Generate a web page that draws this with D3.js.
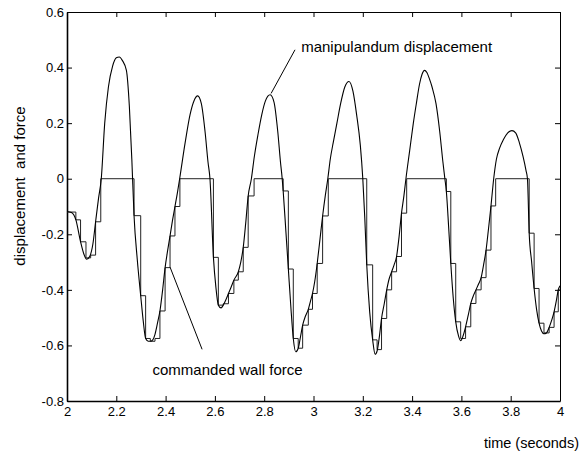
<!DOCTYPE html>
<html>
<head>
<meta charset="utf-8">
<script src="https://cdn.jsdelivr.net/npm/d3@7"></script>
<style>
  html, body { margin: 0; padding: 0; background: #fff; }
  svg { display: block; }
  text { font-family: "Liberation Sans", Arial, Helvetica, sans-serif; fill: #000; }
</style>
</head>
<body>
<svg id="chart" width="581" height="452"></svg>
<script>
// ---------- data ----------
const xTickValues = [2, 2.2, 2.4, 2.6, 2.8, 3, 3.2, 3.4, 3.6, 3.8, 4];
const xTickLabels = ["2", "2.2", "2.4", "2.6", "2.8", "3", "3.2", "3.4", "3.6", "3.8", "4"];
const yTickValues = [-0.8, -0.6, -0.4, -0.2, 0, 0.2, 0.4, 0.6];
const yTickLabels = ["-0.8", "-0.6", "-0.4", "-0.2", "0", "0.2", "0.4", "0.6"];

// manipulandum displacement (smooth curve)
const dispTime = [
  2.000, 2.018, 2.036, 2.055, 2.068, 2.080, 2.092, 2.105, 2.116, 2.128, 2.139, 2.153, 2.168, 2.185, 2.200, 2.212,
  2.225, 2.241, 2.253, 2.263, 2.272, 2.285, 2.299, 2.309, 2.319, 2.330, 2.338, 2.348, 2.357, 2.367, 2.377, 2.388,
  2.398, 2.408, 2.418, 2.428, 2.438, 2.448, 2.457, 2.479, 2.499, 2.515, 2.530, 2.545, 2.560, 2.572, 2.580, 2.594,
  2.604, 2.614, 2.625, 2.634, 2.645, 2.655, 2.666, 2.677, 2.695, 2.705, 2.715, 2.725, 2.735, 2.748, 2.760, 2.775,
  2.790, 2.805, 2.824, 2.840, 2.855, 2.866, 2.873, 2.877, 2.888, 2.898, 2.908, 2.918, 2.928, 2.938, 2.947, 2.956,
  2.967, 2.979, 2.988, 2.996, 3.005, 3.015, 3.026, 3.037, 3.048, 3.058, 3.068, 3.080, 3.095, 3.110, 3.127, 3.144,
  3.160, 3.175, 3.190, 3.200, 3.208, 3.216, 3.228, 3.240, 3.250, 3.258, 3.267, 3.276, 3.287, 3.297, 3.307, 3.317,
  3.327, 3.337, 3.347, 3.357, 3.367, 3.375, 3.390, 3.405, 3.418, 3.430, 3.440, 3.450, 3.460, 3.470, 3.481, 3.497,
  3.512, 3.525, 3.533, 3.539, 3.548, 3.557, 3.567, 3.577, 3.588, 3.597, 3.607, 3.617, 3.628, 3.638, 3.649, 3.659,
  3.670, 3.680, 3.690, 3.700, 3.710, 3.720, 3.731, 3.742, 3.755, 3.770, 3.788, 3.805, 3.820, 3.835, 3.850, 3.862,
  3.868, 3.875, 3.885, 3.895, 3.905, 3.915, 3.925, 3.935, 3.945, 3.956, 3.966, 3.976, 3.985, 3.993, 4.000
];
const dispValue = [
  -0.118, -0.122, -0.148, -0.227, -0.270, -0.290, -0.280, -0.235, -0.155, -0.070, 0.000, 0.200, 0.330, 0.405, 0.435, 0.438,
  0.425, 0.390, 0.260, 0.070, -0.133, -0.290, -0.421, -0.510, -0.575, -0.585, -0.585, -0.580, -0.560, -0.520, -0.476, -0.400,
  -0.320, -0.260, -0.206, -0.150, -0.100, -0.050, 0.000, 0.128, 0.230, 0.280, 0.298, 0.270, 0.170, 0.060, 0.000, -0.283,
  -0.390, -0.455, -0.465, -0.455, -0.435, -0.413, -0.390, -0.365, -0.335, -0.300, -0.247, -0.160, -0.062, 0.000, 0.080, 0.160,
  0.230, 0.280, 0.302, 0.275, 0.170, 0.060, 0.000, -0.044, -0.190, -0.325, -0.460, -0.575, -0.623, -0.610, -0.570, -0.527,
  -0.495, -0.470, -0.440, -0.413, -0.370, -0.305, -0.220, -0.134, -0.060, 0.000, 0.070, 0.130, 0.200, 0.270, 0.330, 0.350,
  0.315, 0.230, 0.120, 0.000, -0.140, -0.310, -0.480, -0.580, -0.632, -0.620, -0.570, -0.503, -0.450, -0.400, -0.360, -0.335,
  -0.310, -0.280, -0.210, -0.124, -0.060, 0.000, 0.100, 0.200, 0.275, 0.340, 0.375, 0.390, 0.382, 0.360, 0.330, 0.270,
  0.170, 0.060, 0.000, -0.046, -0.170, -0.305, -0.430, -0.515, -0.565, -0.583, -0.565, -0.533, -0.490, -0.449, -0.420, -0.400,
  -0.378, -0.356, -0.310, -0.257, -0.180, -0.098, 0.000, 0.070, 0.110, 0.140, 0.165, 0.173, 0.165, 0.130, 0.080, 0.030,
  0.000, -0.196, -0.300, -0.395, -0.470, -0.520, -0.548, -0.558, -0.555, -0.535, -0.510, -0.479, -0.440, -0.400, -0.385
];

// commanded wall force (sample-and-hold steps: value holds from its time to the next)
const forceTime = [
  2.000, 2.036, 2.055, 2.077, 2.096, 2.116, 2.137, 2.272, 2.299, 2.319, 2.338, 2.357, 2.377, 2.398, 2.418, 2.438,
  2.458, 2.594, 2.614, 2.634, 2.655, 2.677, 2.695, 2.715, 2.735, 2.759, 2.877, 2.898, 2.918, 2.938, 2.956, 2.979,
  2.996, 3.015, 3.037, 3.060, 3.216, 3.240, 3.258, 3.276, 3.297, 3.317, 3.337, 3.357, 3.378, 3.539, 3.557, 3.577,
  3.597, 3.617, 3.638, 3.659, 3.680, 3.700, 3.720, 3.739, 3.875, 3.895, 3.915, 3.935, 3.956, 3.976, 3.993, 4.000
];
const forceValue = [
  -0.120, -0.148, -0.227, -0.285, -0.275, -0.155, 0.000, -0.133, -0.421, -0.575, -0.585, -0.575, -0.476, -0.320, -0.206, -0.100,
  0.000, -0.283, -0.455, -0.450, -0.413, -0.365, -0.335, -0.247, -0.062, 0.000, -0.044, -0.325, -0.575, -0.610, -0.527, -0.470,
  -0.413, -0.305, -0.134, 0.000, -0.310, -0.580, -0.615, -0.503, -0.400, -0.335, -0.280, -0.124, 0.000, -0.046, -0.305, -0.515,
  -0.575, -0.533, -0.449, -0.400, -0.356, -0.257, -0.098, 0.000, -0.196, -0.395, -0.520, -0.555, -0.535, -0.479, -0.400, -0.400
];

// annotations: label anchor and leader line, in data units
const annoLabels = ["manipulandum displacement", "commanded wall force"];
const annoTextPos = [[2.950, 0.457], [2.347, -0.707]];
const annoLineFrom = [[2.925, 0.464], [2.418, -0.318]];
const annoLineTo = [[2.828, 0.307], [2.548, -0.614]];

const xLabel = "time (seconds)";
const yLabel = "displacement  and force";

// ---------- drawing ----------
const W = 581, H = 452;
const plot = { left: 67, right: 560, top: 12, bottom: 401 };
const svg = d3.select("#chart");
svg.append("rect").attr("width", W).attr("height", H).attr("fill", "#fff");

const x = d3.scaleLinear().domain([2, 4]).range([plot.left, plot.right]);
const y = d3.scaleLinear().domain([-0.8, 0.6]).range([plot.bottom, plot.top]);

const fontTick = 13;

// bottom axis
const gB = svg.append("g").attr("transform", `translate(0,${plot.bottom})`)
  .call(d3.axisBottom(x).tickValues(xTickValues).tickSizeInner(-5).tickSizeOuter(0).tickPadding(6)
    .tickFormat((d, i) => xTickLabels[i]));
// left axis
const gL = svg.append("g").attr("transform", `translate(${plot.left},0)`)
  .call(d3.axisLeft(y).tickValues(yTickValues).tickSizeInner(-5).tickSizeOuter(0).tickPadding(3)
    .tickFormat((d, i) => yTickLabels[i]));
// top axis (ticks only)
const gT = svg.append("g").attr("transform", `translate(0,${plot.top})`)
  .call(d3.axisTop(x).tickValues(xTickValues).tickSizeInner(-5).tickSizeOuter(0).tickFormat(""));
// right axis (ticks only)
const gR = svg.append("g").attr("transform", `translate(${plot.right},0)`)
  .call(d3.axisRight(y).tickValues(yTickValues).tickSizeInner(-5).tickSizeOuter(0).tickFormat(""));

[gB, gL, gT, gR].forEach(g => {
  g.selectAll("text").style("font-size", fontTick + "px")
    .style("font-family", '"Liberation Sans", Arial, Helvetica, sans-serif').attr("fill", "#000");
  g.selectAll("line").attr("stroke", "#000");
  g.select(".domain").attr("stroke", "#000");
});
gB.select(".domain").attr("stroke-width", 1.6);
gL.select(".domain").attr("stroke-width", 1.6);
gT.select(".domain").attr("stroke-width", 1);
gR.select(".domain").attr("stroke-width", 1);

const dispData = dispTime.map((t, i) => [t, dispValue[i]]);
const forceData = forceTime.map((t, i) => [t, forceValue[i]]);

// force steps
svg.append("path")
  .datum(forceData)
  .attr("fill", "none")
  .attr("stroke", "#222")
  .attr("stroke-width", 1)
  .attr("d", d3.line().x(d => x(d[0])).y(d => y(d[1])).curve(d3.curveStepAfter));

// displacement curve
svg.append("path")
  .datum(dispData)
  .attr("fill", "none")
  .attr("stroke", "#000")
  .attr("stroke-width", 1.1)
  .attr("d", d3.line().x(d => x(d[0])).y(d => y(d[1])).curve(d3.curveMonotoneX));

// annotations
annoLabels.forEach((lab, i) => {
  svg.append("line")
    .attr("x1", x(annoLineFrom[i][0])).attr("y1", y(annoLineFrom[i][1]))
    .attr("x2", x(annoLineTo[i][0])).attr("y2", y(annoLineTo[i][1]))
    .attr("stroke", "#000").attr("stroke-width", 1);
  svg.append("text")
    .attr("x", x(annoTextPos[i][0])).attr("y", y(annoTextPos[i][1]))
    .style("font-size", "15px")
    .text(lab);
});

// axis labels
svg.append("text")
  .attr("x", 579).attr("y", 448)
  .attr("text-anchor", "end")
  .style("font-size", "14.5px")
  .text(xLabel);

svg.append("text")
  .attr("transform", `translate(25,186) rotate(-90)`)
  .attr("text-anchor", "middle")
  .style("font-size", "15px")
  .style("white-space", "pre")
  .text(yLabel);
</script>
</body>
</html>
